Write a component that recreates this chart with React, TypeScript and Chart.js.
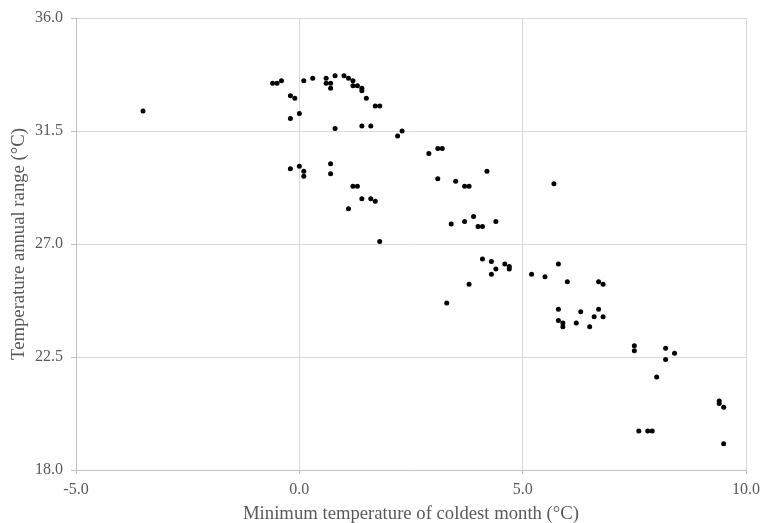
import React, { useEffect, useRef } from "react";
import { Chart, registerables } from "chart.js";

Chart.register(...registerables);

const xValues = [
  -3.5, -0.6, -0.5, -0.4, 0.1, 0.3, 0.6, 0.6, 0.7, 0.7, 0.8, 1.0, 1.1, 1.2, 1.2, 1.3, 1.4, 1.4, 1.5, 1.7, 1.8,
  -0.2, -0.1, -0.2, 0.0, 0.8, 1.4, 1.6, 2.2, 2.3, 2.9, 3.1, 3.2, 3.1,
  -0.2, 0.0, 0.1, 0.1, 0.7, 0.7, 1.2, 1.3, 1.4, 1.6, 1.7, 1.1, 1.8,
  3.5, 3.7, 3.8, 4.2, 3.4, 3.7, 3.9, 4.0, 4.1, 4.4, 4.1, 4.3, 4.4, 4.3, 4.6, 4.7, 4.7, 3.8, 3.3,
  5.7, 5.2, 5.5, 5.8, 6.0, 6.7, 6.8, 5.8, 6.3, 6.7, 5.8, 5.9, 5.9, 6.2, 6.5, 6.6, 6.8,
  7.5, 7.5, 8.2, 8.4, 8.2, 8.0, 9.4, 9.4, 9.5, 7.6, 7.8, 7.9, 9.5,
];
const yValues = [
  32.3, 33.4, 33.4, 33.5, 33.5, 33.6, 33.6, 33.4, 33.4, 33.2, 33.7, 33.7, 33.6, 33.5, 33.3, 33.3, 33.2, 33.1, 32.8, 32.5, 32.5,
  32.9, 32.8, 32.0, 32.2, 31.6, 31.7, 31.7, 31.3, 31.5, 30.6, 30.8, 30.8, 29.6,
  30.0, 30.1, 29.9, 29.7, 30.2, 29.8, 29.3, 29.3, 28.8, 28.8, 28.7, 28.4, 27.1,
  29.5, 29.3, 29.3, 29.9, 27.8, 27.9, 28.1, 27.7, 27.7, 27.9, 26.4, 26.3, 26.0, 25.8, 26.2, 26.1, 26.0, 25.4, 24.65,
  29.4, 25.8, 25.7, 26.2, 25.5, 25.5, 25.4, 24.4, 24.3, 24.4, 23.95, 23.85, 23.7, 23.85, 23.7, 24.1, 24.1,
  22.95, 22.75, 22.85, 22.65, 22.4, 21.7, 20.75, 20.65, 20.5, 19.55, 19.55, 19.55, 19.05,
];

const xTitle = "Minimum temperature of coldest month (\u00B0C)";
const yTitle = "Temperature annual range (\u00B0C)";

const SERIF = "'Liberation Serif', 'Times New Roman', serif";
const TEXT = "#595959";

export default function App() {
  const ref = useRef<HTMLCanvasElement | null>(null);
  useEffect(() => {
    if (!ref.current) return;
    const points = xValues.map((x, i) => ({ x, y: yValues[i] }));
    const chart = new Chart(ref.current, {
      type: "scatter",
      data: {
        datasets: [
          {
            data: points,
            backgroundColor: "#000000",
            borderColor: "#000000",
            pointRadius: 2.5,
            borderWidth: 0,
          },
        ],
      },
      options: {
        animation: false,
        responsive: false,
        devicePixelRatio: 1,
        layout: { padding: { top: 18, right: 15, left: 0, bottom: 0 } },
        plugins: { legend: { display: false }, tooltip: { enabled: false } },
        scales: {
          x: {
            type: "linear",
            min: -5,
            max: 10,
            afterFit: (s: any) => {
              s.height = 53;
            },
            ticks: {
              stepSize: 5,
              padding: 6,
              color: TEXT,
              font: { family: SERIF, size: 16 },
              callback: (v: any) => Number(v).toFixed(1),
            },
            grid: { color: "#d9d9d9", tickLength: 4, tickColor: "#bfbfbf" },
            border: { color: "#bfbfbf" },
            title: {
              display: true,
              text: xTitle,
              color: TEXT,
              font: { family: SERIF, size: 18.7, lineHeight: 1 },
              padding: { top: 0, bottom: 0 },
            },
          },
          y: {
            type: "linear",
            min: 18,
            max: 36,
            afterFit: (s: any) => {
              s.width = 76;
            },
            ticks: {
              stepSize: 4.5,
              padding: 8,
              color: TEXT,
              font: { family: SERIF, size: 16 },
              callback: (v: any) => Number(v).toFixed(1),
            },
            grid: { color: "#d9d9d9", tickLength: 5, tickColor: "#bfbfbf" },
            border: { color: "#bfbfbf" },
            title: {
              display: true,
              text: yTitle,
              color: TEXT,
              font: { family: SERIF, size: 18.7, lineHeight: 1 },
              padding: { top: 10, bottom: 0 },
            },
          },
        },
      },
    });
    return () => chart.destroy();
  }, []);
  return (
    <div style={{ position: "fixed", left: 0, top: 0, width: 766, height: 523, background: "#fff" }}>
      <canvas ref={ref} width={766} height={523} style={{ display: "block" }} />
    </div>
  );
}
